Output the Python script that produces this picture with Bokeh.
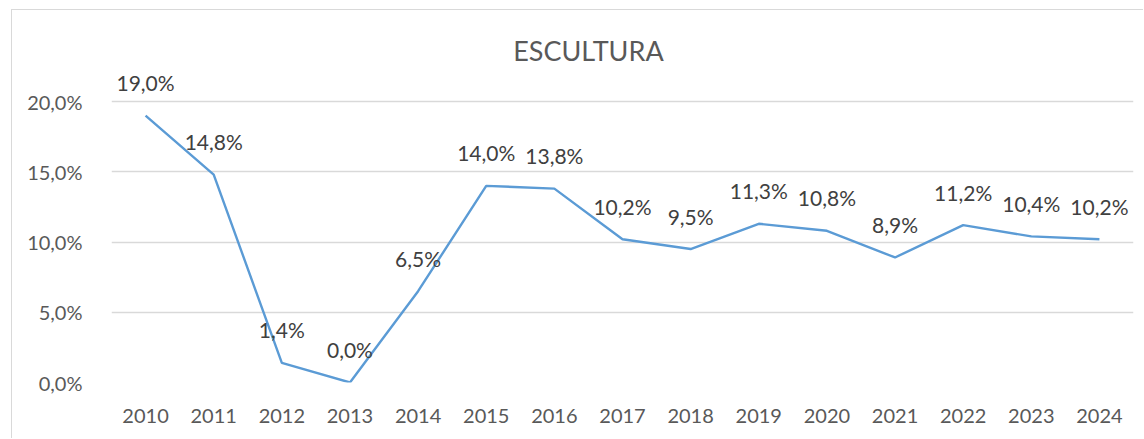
from bokeh.plotting import figure
from bokeh.models import ColumnDataSource, FactorRange, Range1d, FixedTicker, CustomJSTickFormatter, Label
from bokeh.core.properties import value
from bokeh.embed import file_html
from bokeh.resources import INLINE

title = "ESCULTURA"
years = ["2010", "2011", "2012", "2013", "2014", "2015", "2016", "2017",
         "2018", "2019", "2020", "2021", "2022", "2023", "2024"]
values = [19.0, 14.8, 1.4, 0.0, 6.5, 14.0, 13.8, 10.2, 9.5, 11.3, 10.8, 8.9, 11.2, 10.4, 10.2]
y_ticks = [0, 5, 10, 15, 20]

labels = [("%.1f" % v).replace(".", ",") + "%" for v in values]
src = ColumnDataSource(dict(x=years, y=values, label=labels))

FONT = "Lato"

p = figure(x_range=FactorRange(*years), y_range=Range1d(0, 25.77),
           width=1132, height=429, output_backend="svg", toolbar_location=None,
           min_border_left=99, min_border_right=11, min_border_top=10, min_border_bottom=57)
p.styles = {"border-left": "1px solid #d9d9d9", "border-top": "1px solid #d9d9d9",
            "margin-left": "11px", "margin-top": "9px"}
p.outline_line_color = None

p.line("x", "y", source=src, line_color="#5B9BD5", line_width=2.4)
p.text("x", "y", text="label", source=src, y_offset=-33, text_align="center",
       text_baseline="middle", text_font=value(FONT), text_font_size="21px",
       text_color="#404040")

p.add_layout(Label(x=7.0, y=20 + 51 / 14.05, text=title, text_align="center",
                   text_baseline="middle", text_font=FONT, text_font_size="27px",
                   text_color="#595959"))

p.yaxis.ticker = FixedTicker(ticks=y_ticks)
p.yaxis.formatter = CustomJSTickFormatter(code="return tick.toFixed(1).replace('.', ',') + '%';")
p.ygrid.ticker = FixedTicker(ticks=y_ticks)
p.xgrid.grid_line_color = None
p.ygrid.grid_line_color = "#d9d9d9"
p.ygrid.grid_line_width = 1.3

for ax in (p.xaxis, p.yaxis):
    ax.axis_line_color = None
    ax.major_tick_line_color = None
    ax.minor_tick_line_color = None
    ax.major_label_text_font = FONT
    ax.major_label_text_font_size = "20px"
    ax.major_label_text_color = "#595959"
p.yaxis.major_label_standoff = 23
p.xaxis.major_label_standoff = 20

open("out.html", "w").write(file_html(p, INLINE))
